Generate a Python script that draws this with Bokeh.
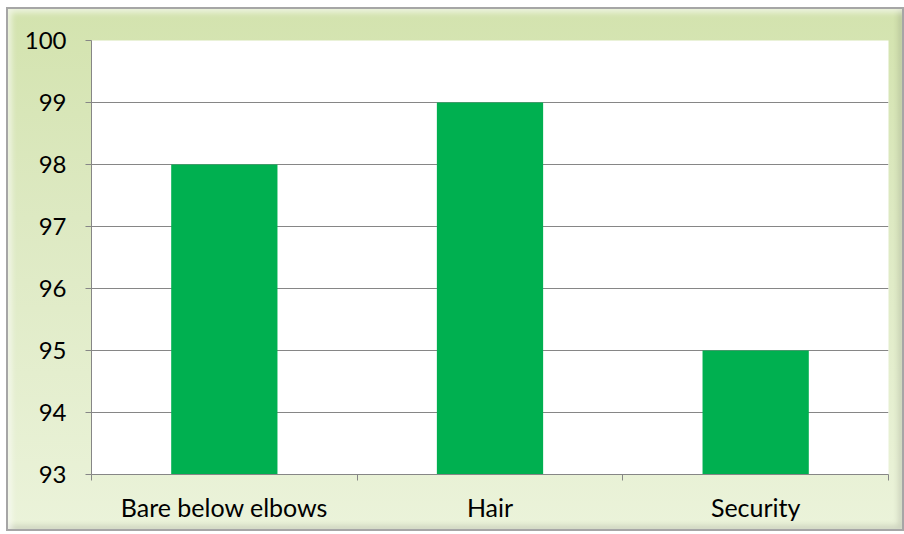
from bokeh.plotting import figure
from bokeh.models import Range1d, FixedTicker
from bokeh.embed import file_html
from bokeh.resources import INLINE

categories = ["Bare below elbows", "Hair", "Security"]
values = [98, 99, 95]
y_ticks = [93, 94, 95, 96, 97, 98, 99, 100]

xs = [i + 0.5 for i in range(len(categories))]

p = figure(width=898, height=524, output_backend="svg", toolbar_location=None,
           x_range=Range1d(0, len(categories)), y_range=Range1d(93, 100),
           min_border_left=83, min_border_top=31, min_border_right=18, min_border_bottom=59)

p.vbar(x=xs, top=values, bottom=93, width=0.4, fill_color="#00b050", line_color=None)

p.background_fill_color = "white"
p.border_fill_alpha = 0
p.outline_line_color = None
p.styles = {
    "background": "linear-gradient(to bottom, #d3e3ae 0%, #dde9c2 40%, #ebf3da 100%)",
    "border": "2px solid #a6a6a6",
    "box-sizing": "border-box",
    "box-shadow": "inset 3px 3px 6px rgba(255,255,255,0.7), inset -3px -3px 6px rgba(0,0,0,0.15)",
    "margin-left": "6px",
    "margin-top": "7px",
}

# y axis
p.yaxis.ticker = FixedTicker(ticks=y_ticks)
p.yaxis.axis_line_color = "#868686"
p.yaxis.major_tick_line_color = "#868686"
p.yaxis.major_tick_out = 6
p.yaxis.major_tick_in = 0
p.yaxis.minor_tick_line_color = None
p.yaxis.major_label_text_font = "Lato"
p.yaxis.major_label_text_font_size = "24px"
p.yaxis.major_label_text_color = "black"
p.yaxis.major_label_standoff = 19

# x axis: labels at centers, ticks at boundaries
p.xaxis.ticker = FixedTicker(ticks=xs, minor_ticks=list(range(len(categories) + 1)))
p.xaxis.major_label_overrides = {x: c for x, c in zip(xs, categories)}
p.xaxis.axis_line_color = "#868686"
p.xaxis.major_tick_line_color = None
p.xaxis.major_tick_out = 0
p.xaxis.major_tick_in = 0
p.xaxis.minor_tick_line_color = "#868686"
p.xaxis.minor_tick_out = 6
p.xaxis.minor_tick_in = 0
p.xaxis.major_label_text_font = "Lato"
p.xaxis.major_label_text_font_size = "25px"
p.xaxis.major_label_text_color = "black"
p.xaxis.major_label_standoff = 11

p.xgrid.grid_line_color = None
p.ygrid.grid_line_color = "#868686"
p.ygrid.grid_line_width = 1

open("out.html", "w").write(file_html(p, INLINE))
